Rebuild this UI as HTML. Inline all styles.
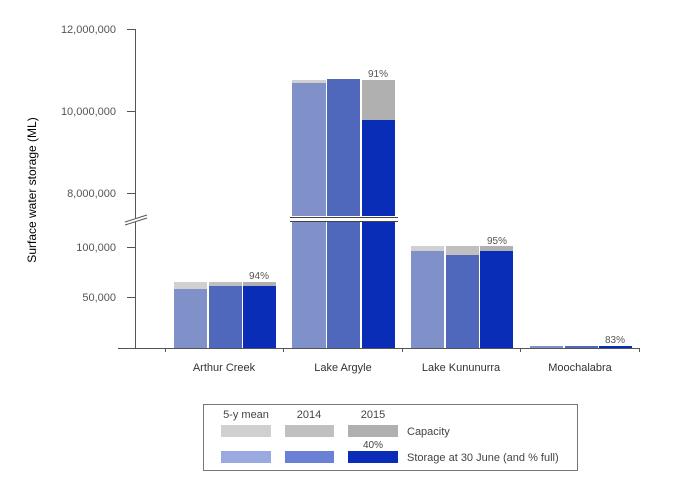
<!DOCTYPE html>
<html><head><style>body{margin:0;background:#fff}svg{font-family:"Liberation Sans",sans-serif}</style></head><body>
<svg width="700" height="488" viewBox="0 0 700 488" xmlns="http://www.w3.org/2000/svg">
<g font-size="11" fill="#555" text-anchor="end">
<text x="116" y="33">12,000,000</text>
<text x="116" y="115">10,000,000</text>
<text x="116" y="197">8,000,000</text>
<text x="116" y="251">100,000</text>
<text x="116" y="301">50,000</text>
</g>
<text transform="translate(36,190) rotate(-90)" font-size="12" fill="#000" text-anchor="middle">Surface water storage (ML)</text>
<g stroke="#555" stroke-width="1">
<line x1="135.5" y1="29" x2="135.5" y2="218"/>
<line x1="135.5" y1="222" x2="135.5" y2="348"/>
<line x1="127" y1="29.5" x2="135" y2="29.5"/>
<line x1="127" y1="111.5" x2="135" y2="111.5"/>
<line x1="127" y1="193.5" x2="135" y2="193.5"/>
<line x1="127" y1="247.5" x2="135" y2="247.5"/>
<line x1="127" y1="297.5" x2="135" y2="297.5"/>
<line x1="125" y1="222" x2="147" y2="215"/>
<line x1="125" y1="225" x2="147" y2="218"/>
</g>
<g>
<!-- Arthur -->
<rect x="174" y="282" width="33" height="66" fill="#d0d0d0"/>
<rect x="174" y="289" width="33" height="59" fill="#8090c8"/>
<rect x="209" y="282" width="33" height="66" fill="#c0c0c0"/>
<rect x="209" y="286" width="33" height="62" fill="#5068bc"/>
<rect x="243" y="282" width="33" height="66" fill="#b0b0b0"/>
<rect x="243" y="286" width="33" height="62" fill="#0a2db8"/>
<!-- Argyle -->
<rect x="292" y="80" width="34" height="268" fill="#d0d0d0"/>
<rect x="292" y="83" width="34" height="265" fill="#8090c8"/>
<rect x="327" y="79" width="33" height="269" fill="#5068bc"/>
<rect x="362" y="80" width="33" height="268" fill="#b0b0b0"/>
<rect x="362" y="120" width="33" height="228" fill="#0a2db8"/>
<rect x="290" y="216" width="108" height="5" fill="#fff"/>
<line x1="290" y1="217.5" x2="398" y2="217.5" stroke="#444"/>
<line x1="290" y1="221.5" x2="398" y2="221.5" stroke="#444"/>
<!-- Kununurra -->
<rect x="411" y="246" width="33" height="102" fill="#d0d0d0"/>
<rect x="411" y="251" width="33" height="97" fill="#8090c8"/>
<rect x="446" y="246" width="33" height="102" fill="#c0c0c0"/>
<rect x="446" y="255" width="33" height="93" fill="#5068bc"/>
<rect x="480" y="246" width="33" height="102" fill="#b0b0b0"/>
<rect x="480" y="251" width="33" height="97" fill="#0a2db8"/>
<!-- Moochalabra -->
<rect x="530" y="346" width="33" height="2" fill="#8090c8"/>
<rect x="565" y="346" width="33" height="2" fill="#5068bc"/>
<rect x="599" y="346" width="33" height="2" fill="#0a2db8"/>
</g>
<g font-size="10" fill="#555" text-anchor="middle">
<text x="259" y="279">94%</text>
<text x="378" y="77">91%</text>
<text x="497" y="244">95%</text>
<text x="615" y="343">83%</text>
</g>
<g stroke="#555">
<line x1="118" y1="348.5" x2="640" y2="348.5"/>
<line x1="165.5" y1="348" x2="165.5" y2="352"/>
<line x1="283.5" y1="348" x2="283.5" y2="352"/>
<line x1="402.5" y1="348" x2="402.5" y2="352"/>
<line x1="520.5" y1="348" x2="520.5" y2="352"/>
<line x1="639.5" y1="348" x2="639.5" y2="352"/>
</g>
<g font-size="11" fill="#333" text-anchor="middle">
<text x="224" y="371">Arthur Creek</text>
<text x="343" y="371">Lake Argyle</text>
<text x="461" y="371">Lake Kununurra</text>
<text x="580" y="371">Moochalabra</text>
</g>
<rect x="203.5" y="404.5" width="374" height="66" fill="#fff" stroke="#777"/>
<g font-size="11" fill="#444" text-anchor="middle">
<text x="246" y="418">5-y mean</text>
<text x="309" y="418">2014</text>
<text x="373" y="418">2015</text>
<text x="373" y="448" font-size="10">40%</text>
</g>
<rect x="221" y="425" width="50" height="12" fill="#d0d0d0"/>
<rect x="285" y="425" width="49" height="12" fill="#c0c0c0"/>
<rect x="348" y="425" width="50" height="12" fill="#b0b0b0"/>
<rect x="221" y="451" width="50" height="12" fill="#9aaae0"/>
<rect x="285" y="451" width="49" height="12" fill="#6a80d4"/>
<rect x="348" y="451" width="50" height="12" fill="#0a2db8"/>
<g font-size="11" fill="#444">
<text x="407" y="435">Capacity</text>
<text x="407" y="461">Storage at 30 June (and % full)</text>
</g>
</svg>
</body></html>
